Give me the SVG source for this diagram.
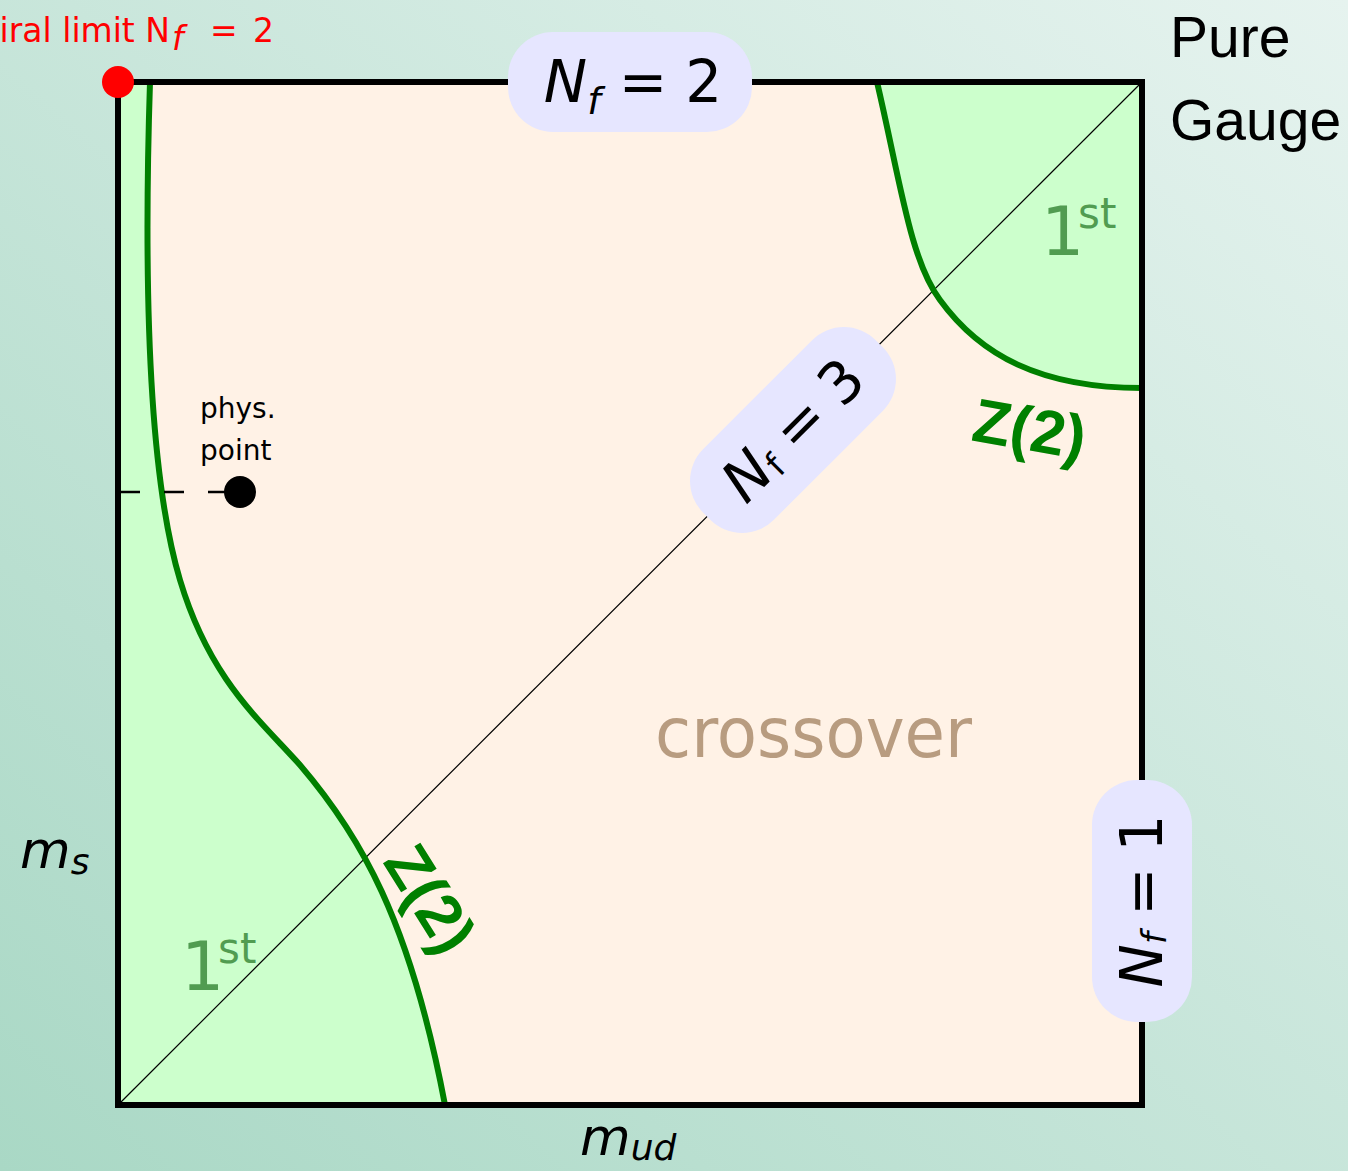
<svg xmlns="http://www.w3.org/2000/svg" width="1348" height="1171" viewBox="0 0 1348 1171">
<defs>
<linearGradient id="bg" x1="0" y1="1" x2="1" y2="0">
<stop offset="0" stop-color="#a9d8c5"/>
<stop offset="1" stop-color="#e6f3ef"/>
</linearGradient>
<style>
.math{font-family:"DejaVu Sans","Liberation Sans",sans-serif;fill:#000}
.it{font-style:italic}
.box{fill:#e6e6ff}
.region{fill:#ccffcc;stroke:none}
.crit{fill:none;stroke:#008000;stroke-width:6}
.first{font-family:"DejaVu Sans","Liberation Sans",sans-serif;fill:#519c51}
.z2{font-family:"Liberation Sans","DejaVu Sans",sans-serif;fill:#008000;font-weight:bold}
.red{font-family:"DejaVu Sans","Liberation Sans",sans-serif;fill:#ff0000;font-size:33px}
.plain{font-family:"DejaVu Sans","Liberation Sans",sans-serif;fill:#000}
</style>
</defs>
<rect x="0" y="0" width="1348" height="1171" fill="url(#bg)"/>
<g id="plane">
<rect x="118" y="82" width="1024" height="1023" fill="#fff2e6"/>
</g>
<g id="first-order-light">
<path class="region" d="M118,82 L150,82 C143,300 150,480 180,580 C210,680 260,720 300,765 C360,835 410,920 445,1105 L118,1105 Z"/>
</g>
<g id="first-order-heavy">
<path class="region" d="M877,82 C900,180 910,260 940,300 C980,355 1040,388 1142,388 L1142,82 Z"/>
</g>
<g id="connectors">
<line x1="118" y1="1105" x2="1142" y2="82" stroke="#000" stroke-width="1.2"/>
<path class="crit" d="M150,82 C143,300 150,480 180,580 C210,680 260,720 300,765 C360,835 410,920 445,1105"/>
<path class="crit" d="M877,82 C900,180 910,260 940,300 C980,355 1040,388 1142,388"/>
<line x1="120" y1="492" x2="226" y2="492" stroke="#000" stroke-width="2.5" stroke-dasharray="20 24"/>
</g>
<g id="frame">
<rect x="118" y="82" width="1024" height="1023" fill="none" stroke="#000" stroke-width="6"/>
</g>
<g id="label-1st-bl">
<text class="first" x="181" y="990" font-size="68">1</text>
<text class="first" x="218" y="963" font-size="42">st</text>
</g>
<g id="label-1st-tr">
<text class="first" x="1041" y="255" font-size="68">1</text>
<text class="first" x="1078" y="228" font-size="42">st</text>
</g>
<g id="label-z2-tr">
<text class="z2" font-size="62" text-anchor="middle" transform="translate(1026,450) rotate(10)">Z(2)</text>
</g>
<g id="label-z2-bl">
<text class="z2" font-size="62" text-anchor="middle" transform="translate(412,910) rotate(58)">Z(2)</text>
</g>
<g id="label-crossover">
<text x="655" y="757" font-family="DejaVu Sans, Liberation Sans, sans-serif" font-size="70" fill="#b89c80" textLength="317" lengthAdjust="spacingAndGlyphs">crossover</text>
</g>
<g id="node-nf2">
<rect class="box" x="508" y="32" width="244" height="100" rx="45"/>
<text class="math" x="633" y="102" font-size="58" text-anchor="middle"><tspan class="it">N</tspan><tspan class="it" font-size="38" dy="12">f</tspan><tspan dy="-12" dx="18">=</tspan><tspan dx="18">2</tspan></text>
</g>
<g id="node-nf3" transform="translate(793,430) rotate(-45)">
<rect class="box" x="-122" y="-50" width="244" height="100" rx="45"/>
<text class="math" x="0" y="20" font-size="58" text-anchor="middle"><tspan class="it">N</tspan><tspan font-size="34" dy="4">f</tspan><tspan dy="-4" dx="16">=</tspan><tspan dx="16">3</tspan></text>
</g>
<g id="node-nf1" transform="translate(1142,901) rotate(-90)">
<rect class="box" x="-121" y="-50" width="242" height="100" rx="45"/>
<text class="math" x="0" y="20" font-size="58" text-anchor="middle"><tspan class="it">N</tspan><tspan class="it" font-size="34" dy="4">f</tspan><tspan dy="-4" dx="16">=</tspan><tspan dx="16">1</tspan></text>
</g>
<g id="node-phys">
<circle cx="240" cy="492" r="16" fill="#000"/>
<text class="plain" x="200" y="418" font-size="28">phys.</text>
<text class="plain" x="200" y="460" font-size="28">point</text>
</g>
<g id="node-chiral">
<circle cx="118" cy="82" r="16" fill="#ff0000"/>
<text class="red" x="170" y="42" text-anchor="end">chiral limit N</text>
<text class="red" x="172" y="50" font-style="italic">f</text>
<text class="red" x="210" y="42">=</text>
<text class="red" x="253" y="42">2</text>
</g>
<g id="node-puregauge">
<text x="1170" y="57" font-family="Liberation Sans, DejaVu Sans, sans-serif" font-size="57" fill="#000">Pure</text>
<text x="1170" y="140" font-family="Liberation Sans, DejaVu Sans, sans-serif" font-size="57" fill="#000">Gauge</text>
</g>
<g id="axis-labels">
<text class="math it" x="20" y="868" font-size="52">m<tspan font-size="36" dy="6">s</tspan></text>
<text class="math it" x="580" y="1155" font-size="52">m<tspan font-size="36" dy="5">ud</tspan></text>
</g>
</svg>
